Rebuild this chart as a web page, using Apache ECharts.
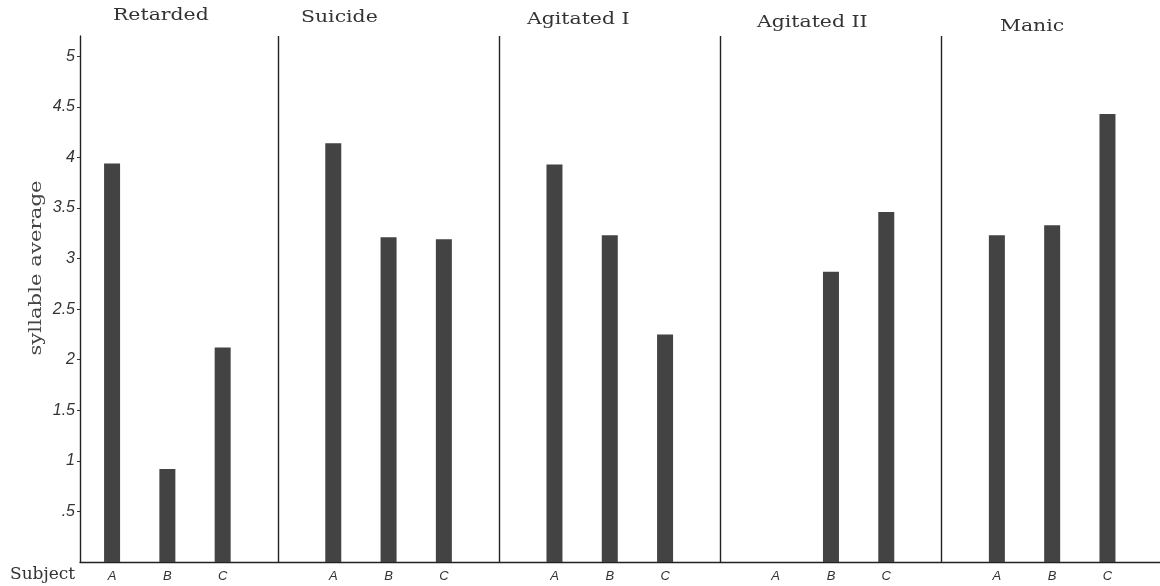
<!DOCTYPE html>
<html>
<head>
<meta charset="utf-8">
<script src="https://cdn.jsdelivr.net/npm/echarts@6/dist/echarts.min.js"></script>
<style>
  html, body { margin: 0; padding: 0; background: #fff; }
  #chart { width: 1160px; height: 586px; }
</style>
</head>
<body>
<div id="chart"></div>
<script>
// ---- data ----
var groups = ['Retarded', 'Suicide', 'Agitated I', 'Agitated II', 'Manic'];
var subjects = ['A', 'B', 'C'];
var retarded = [3.94, 0.92, 2.12];
var suicide = [4.14, 3.21, 3.19];
var agitatedI = [3.93, 3.23, 2.25];
var agitatedII = [0, 2.87, 3.46];
var manic = [3.23, 3.33, 4.43];
var yTicks = [0.5, 1, 1.5, 2, 2.5, 3, 3.5, 4, 4.5, 5];

var groupValues = [retarded, suicide, agitatedI, agitatedII, manic];

// each group occupies 4 units on the x axis; subjects at 1,2,3 inside it
var slots = subjects.length + 1;
var barData = [];
var labelPositions = [];
groupValues.forEach(function (vals, g) {
  vals.forEach(function (v, s) {
    var x = g * slots + s + 1;
    barData.push([x, v]);
    labelPositions.push(x);
  });
});
var separators = [];
for (var g = 1; g < groups.length; g++) separators.push({ xAxis: g * slots });

var serif = '"DejaVu Serif", "Liberation Serif", serif';
var hand = '"Liberation Sans", "DejaVu Sans", sans-serif';

function title(i, left, top) {
  return {
    type: 'text', left: left, top: top, scaleX: 1.2,
    style: { text: groups[i], font: '17px ' + serif, fill: '#333' }
  };
}

var chart = echarts.init(document.getElementById('chart'));
chart.setOption({
  backgroundColor: '#ffffff',
  animation: false,
  grid: { left: 80, right: 0, top: 36, bottom: 24, containLabel: false },
  xAxis: {
    type: 'value',
    min: 0.42,
    max: 19.95,
    axisLine: { show: true, onZero: false, lineStyle: { color: '#222', width: 1.4 } },
    axisTick: { show: false },
    splitLine: { show: false },
    axisLabel: {
      customValues: labelPositions,
      formatter: function (v) {
        var s = Math.round(v) % slots - 1;
        return subjects[s] || '';
      },
      color: '#333',
      fontFamily: hand,
      fontStyle: 'italic',
      fontSize: 13,
      margin: 8
    }
  },
  yAxis: {
    type: 'value',
    min: 0,
    max: 5.2,
    axisLine: { show: true, lineStyle: { color: '#222', width: 1.4 } },
    axisTick: { show: true, customValues: yTicks, length: 3, lineStyle: { color: '#333' } },
    splitLine: { show: false },
    axisLabel: {
      customValues: yTicks,
      formatter: function (v) { return String(v).replace(/^0\./, '.'); },
      color: '#333',
      fontFamily: hand,
      fontStyle: 'italic',
      fontSize: 16,
      margin: 5
    }
  },
  series: [{
    type: 'bar',
    data: barData,
    barWidth: 16,
    itemStyle: { color: '#434343' },
    markLine: {
      silent: true,
      symbol: ['none', 'none'],
      label: { show: false },
      lineStyle: { color: '#222', width: 1.4, type: 'solid' },
      data: separators
    }
  }],
  graphic: [
    title(0, 113, 7),
    title(1, 301, 9),
    title(2, 527, 11),
    title(3, 757, 14),
    title(4, 1000, 18),
    { type: 'text', left: 10, top: 566, style: { text: 'Subject', font: '17px ' + serif, fill: '#333' } },
    {
      type: 'text', x: 37, y: 268, rotation: Math.PI / 2, scaleX: 1.25,
      style: { text: 'syllable average', font: '17px ' + serif, fill: '#444', align: 'center', verticalAlign: 'middle' }
    }
  ]
});
</script>
</body>
</html>
